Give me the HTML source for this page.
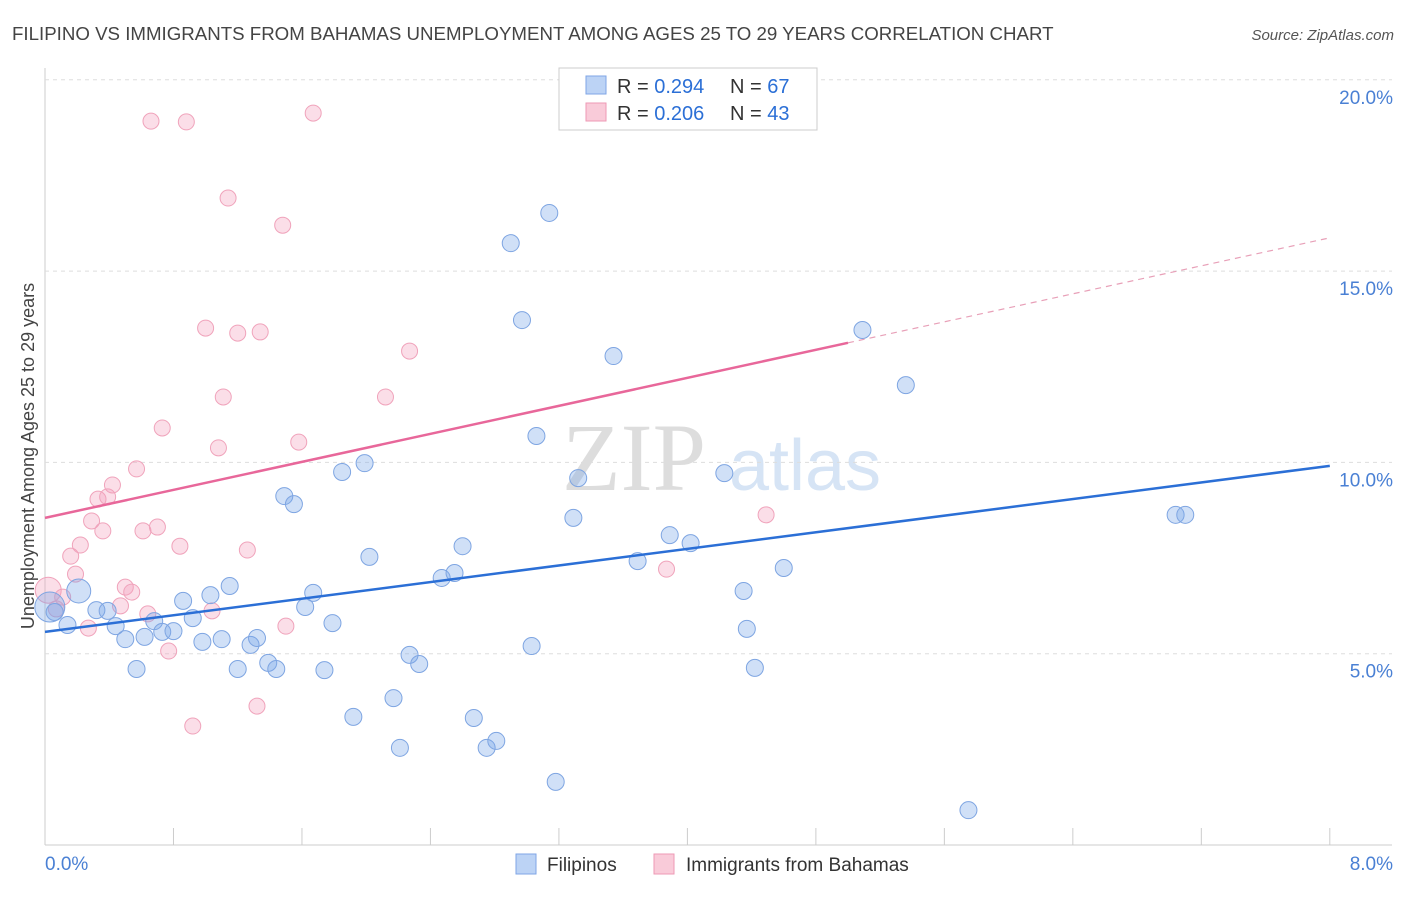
<!DOCTYPE html>
<html><head><meta charset="utf-8"><style>
body{margin:0;background:#fff;font-family:"Liberation Sans",sans-serif;}
svg text{font-family:"Liberation Sans",sans-serif;}
</style></head><body>
<svg id="c" width="1406" height="892" xmlns="http://www.w3.org/2000/svg">
<text x="12" y="40" font-size="18.7" fill="#444">FILIPINO VS IMMIGRANTS FROM BAHAMAS UNEMPLOYMENT AMONG AGES 25 TO 29 YEARS CORRELATION CHART</text>
<text x="1394" y="40" font-size="15" fill="#555" text-anchor="end" font-style="italic">Source: ZipAtlas.com</text>
<text x="634" y="490" font-size="96" fill="#ddd" style="font-family:'Liberation Serif',serif" text-anchor="middle">ZIP</text>
<text x="805" y="490" font-size="72" fill="#d6e4f5" text-anchor="middle">atlas</text>
<text transform="translate(34,456) rotate(-90)" font-size="18" fill="#444" text-anchor="middle">Unemployment Among Ages 25 to 29 years</text>
<g id="grid"></g><g id="pts"></g><g id="lines"></g>
<g>
<rect x="559" y="68" width="258" height="62" fill="#fff" stroke="#ccc"/>
<rect x="586" y="76" width="20" height="18" fill="#bcd3f5" stroke="#7fa6e6"/>
<text x="617" y="93" font-size="20" fill="#333">R = <tspan fill="#2b6fd6">0.294</tspan></text>
<text x="730" y="93" font-size="20" fill="#333">N = <tspan fill="#2b6fd6">67</tspan></text>
<rect x="586" y="103" width="20" height="18" fill="#f9cbd9" stroke="#ee9ab5"/>
<text x="617" y="120" font-size="20" fill="#333">R = <tspan fill="#2b6fd6">0.206</tspan></text>
<text x="730" y="120" font-size="20" fill="#333">N = <tspan fill="#2b6fd6">43</tspan></text>
</g>
<g>
<rect x="516" y="854" width="20" height="20" fill="#bcd3f5" stroke="#7fa6e6"/>
<text x="547" y="871" font-size="19" fill="#333">Filipinos</text>
<rect x="654" y="854" width="20" height="20" fill="#f9cbd9" stroke="#ee9ab5"/>
<text x="686" y="871" font-size="19" fill="#333">Immigrants from Bahamas</text>
</g>
</svg>
<script>
const blueX=[0.03,0.06,0.14,0.21,0.32,0.39,0.44,0.50,0.57,0.62,0.68,0.73,0.80,0.86,0.92,0.98,1.03,1.10,1.15,1.20,1.28,1.32,1.39,1.44,1.49,1.55,1.62,1.67,1.74,1.79,1.85,1.92,1.99,2.02,2.17,2.21,2.27,2.33,2.47,2.55,2.60,2.67,2.75,2.81,2.90,2.97,3.03,3.06,3.14,3.18,3.29,3.32,3.54,3.69,3.89,4.02,4.23,4.35,4.37,4.42,4.60,5.09,5.36,5.75,7.04,7.10];
const blueY=[6.22,6.09,5.75,6.64,6.14,6.12,5.72,5.38,4.60,5.44,5.85,5.57,5.59,6.38,5.93,5.31,6.53,5.38,6.77,4.60,5.23,5.41,4.76,4.60,9.12,8.91,6.22,6.59,4.57,5.80,9.75,3.35,9.98,7.53,3.84,2.54,4.97,4.73,6.98,7.11,7.81,3.32,2.54,2.72,15.73,13.72,5.20,10.69,16.52,1.65,8.55,9.59,12.78,7.42,8.10,7.89,9.72,6.64,5.65,4.63,7.24,13.46,12.02,0.91,8.63,8.63];
const pinkX=[0.02,0.07,0.11,0.16,0.19,0.22,0.27,0.29,0.33,0.36,0.39,0.42,0.47,0.50,0.54,0.57,0.61,0.64,0.66,0.70,0.73,0.77,0.84,0.88,0.92,1.00,1.04,1.08,1.11,1.14,1.20,1.26,1.32,1.34,1.48,1.50,1.58,1.67,2.12,2.27,3.87,4.49];
const pinkY=[6.66,6.17,6.48,7.55,7.08,7.84,5.67,8.47,9.04,8.21,9.10,9.41,6.25,6.74,6.61,9.83,8.21,6.04,18.92,8.31,10.90,5.07,7.81,18.90,3.11,13.51,6.12,10.38,11.71,16.91,13.38,7.71,3.63,13.41,16.20,5.72,10.53,19.13,11.71,12.91,7.21,8.63];
const blueTrend=[5.57,9.91];
const pinkTrend=[8.55,15.87];
const yTicks=[5,10,15,20];
const yTickLabels=["5.0%","10.0%","15.0%","20.0%"];
const xTicks=[0,0.8,1.6,2.4,3.2,4,4.8,5.6,6.4,7.2,8];
const NS="http://www.w3.org/2000/svg";
const sx=v=>45+v*160.6, sy=v=>845-v*38.26;
function mk(t,a,p){const e=document.createElementNS(NS,t);for(const k in a)e.setAttribute(k,a[k]);p.appendChild(e);return e;}
const g=document.getElementById('grid');
const ax=mk('line',{x1:45,y1:68,x2:45,y2:845,stroke:'#ccc'},g);


const xa=mk('line',{x1:45,y1:845,x2:1392,y2:845,stroke:'#ccc'},g);


yTicks.forEach((v,i)=>{
 const l=mk('line',{x1:45,y1:sy(v),x2:1392,y2:sy(v),stroke:'#ddd','stroke-dasharray':'4,4'},g);
 
 
 const t=mk('text',{x:1393,y:sy(v)+24,'font-size':19,fill:'#4a80d4','text-anchor':'end'},g);
 t.textContent=yTickLabels[i];
 
 
});
xTicks.forEach(v=>{
 const l=mk('line',{x1:sx(v),y1:828,x2:sx(v),y2:845,stroke:'#ccc'},g);
 
 
});
const t0=mk('text',{x:45,y:870,'font-size':19,fill:'#4a80d4'},g);t0.textContent='0.0%';


const t8=mk('text',{x:1393,y:870,'font-size':19,fill:'#4a80d4','text-anchor':'end'},g);t8.textContent='8.0%';


const P=document.getElementById('pts');
pinkX.forEach((x,i)=>{
 const c=mk('circle',{cx:sx(x),cy:sy(pinkY[i]),r:i==0?13:8,fill:'rgba(244,160,188,0.35)',stroke:'#f0a3bb','stroke-width':1},P);
 
 
});
blueX.forEach((x,i)=>{
 const c=mk('circle',{cx:sx(x),cy:sy(blueY[i]),r:i==0?15:(i==3?12:8.5),fill:'rgba(120,165,232,0.35)',stroke:'#7ea5e2','stroke-width':1},P);
 
 
});
const L=document.getElementById('lines');
const bl=mk('line',{x1:sx(0),y1:sy(blueTrend[0]),x2:sx(8),y2:sy(blueTrend[1]),stroke:'#2b6fd6','stroke-width':2.5},L);


const pm=v=>pinkTrend[0]+(pinkTrend[1]-pinkTrend[0])*v/8;
const pl=mk('line',{x1:sx(0),y1:sy(pm(0)),x2:sx(5),y2:sy(pm(5)),stroke:'#e8679a','stroke-width':2.5},L);


const pd=mk('line',{x1:sx(5),y1:sy(pm(5)),x2:sx(8),y2:sy(pm(8)),stroke:'#e8a0b8','stroke-width':1.2,'stroke-dasharray':'6,5'},L);


</script>
</body></html>
